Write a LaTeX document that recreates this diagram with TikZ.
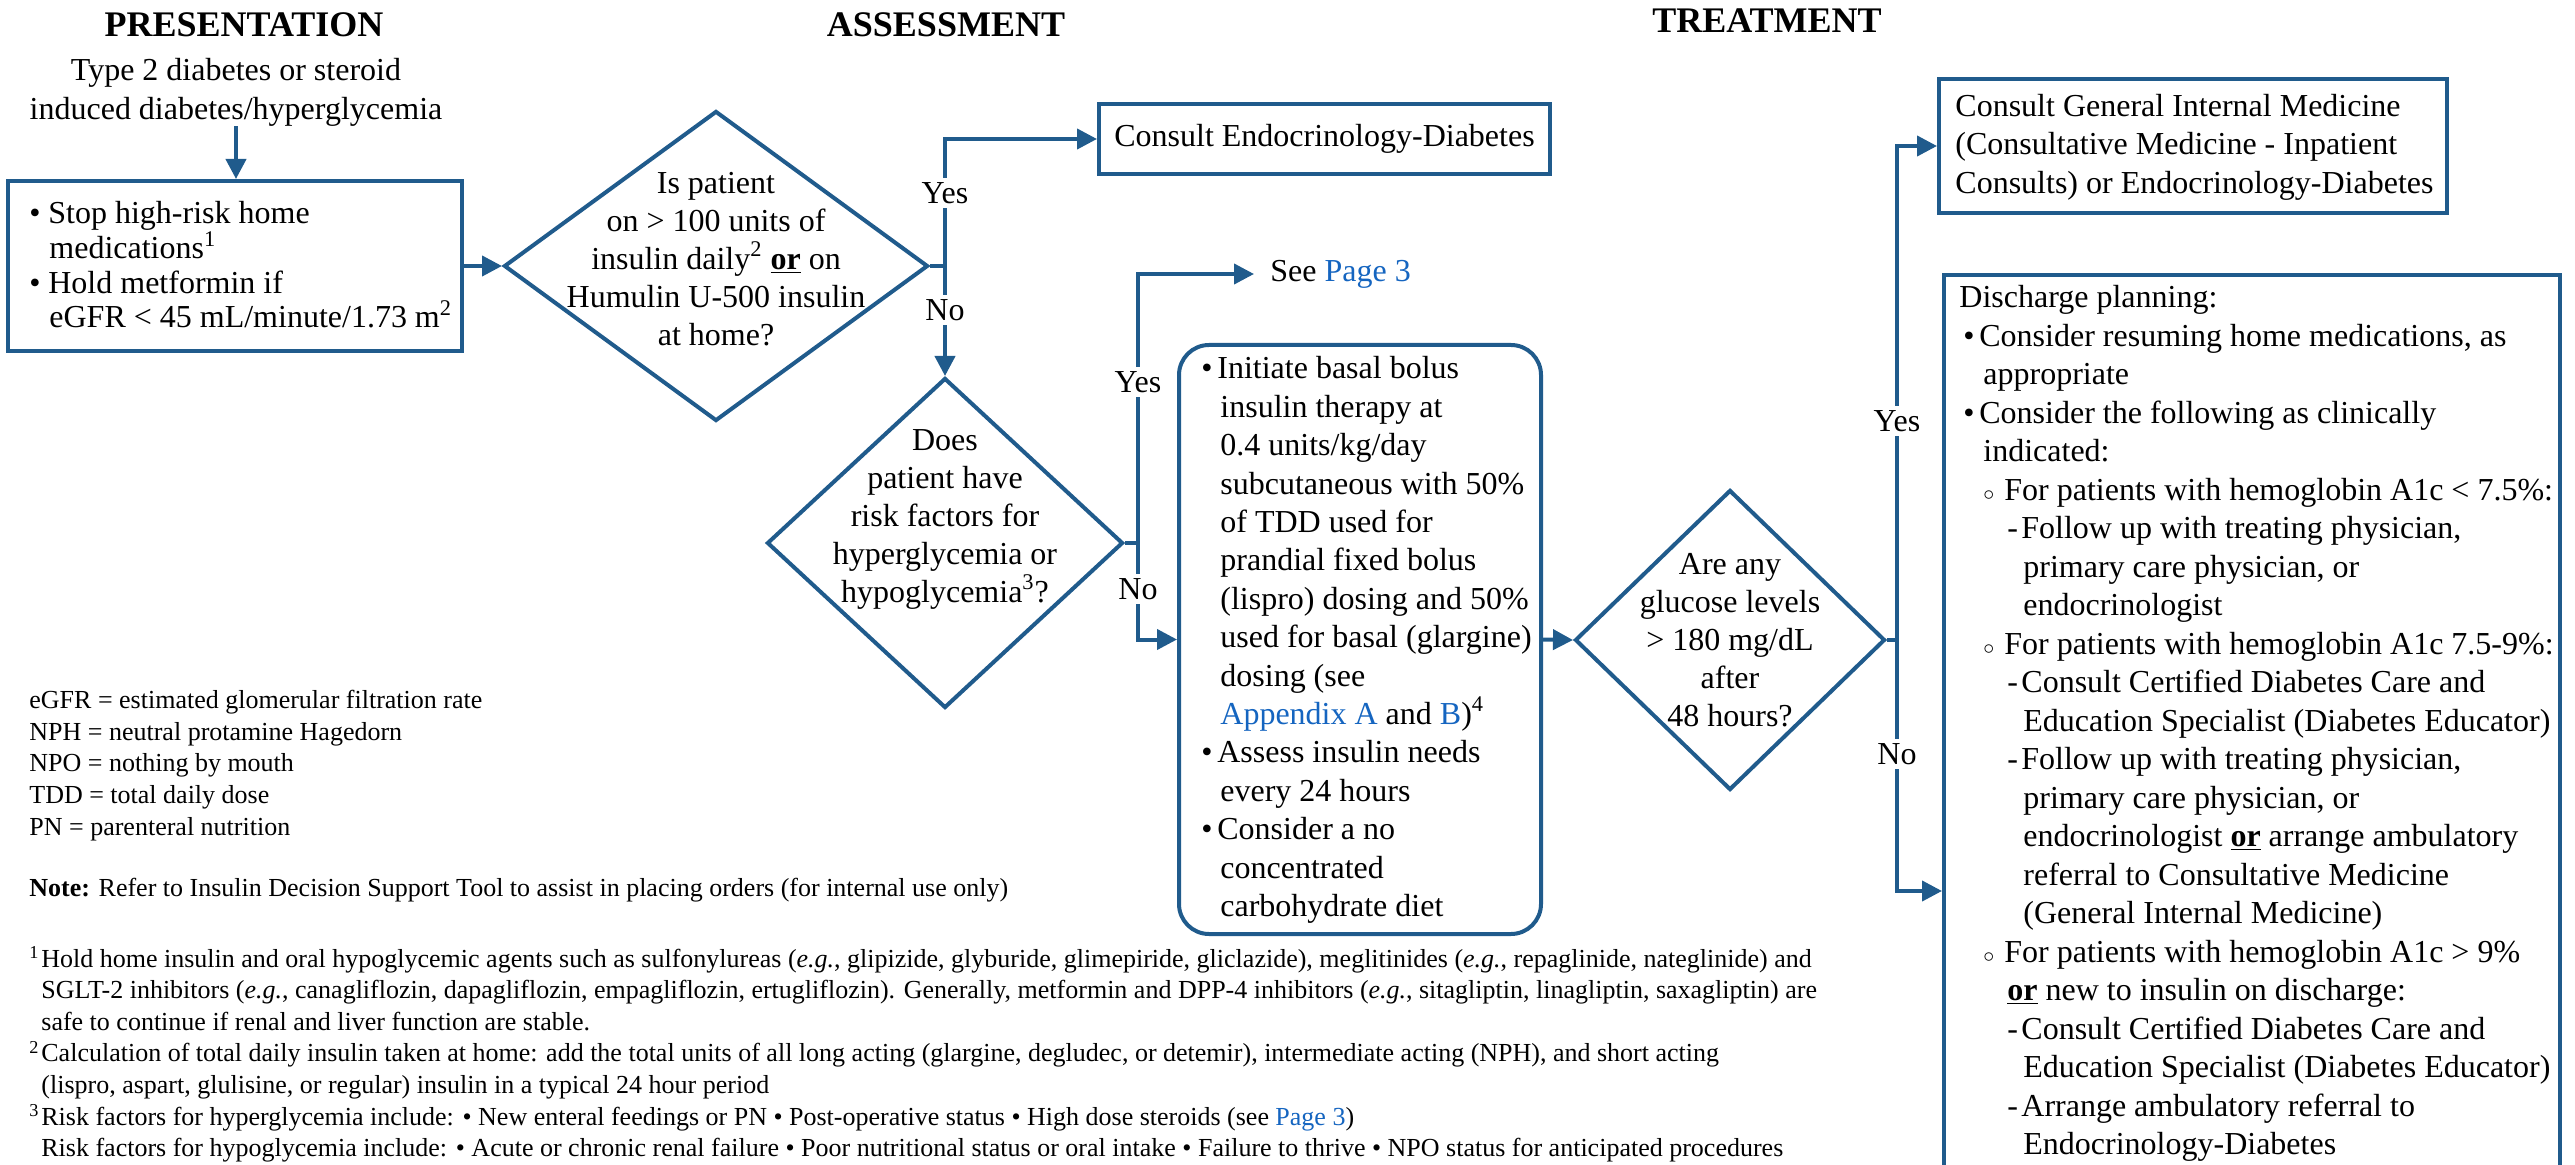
\documentclass[tikz,border=0pt]{standalone}
\usepackage{fontspec}
\setmainfont{Liberation Serif}
\usetikzlibrary{arrows.meta,shapes.geometric}
\definecolor{lineblue}{RGB}{32,91,140}
\definecolor{linkblue}{RGB}{21,101,192}
\newcommand\fmain{\fontsize{16}{19}\selectfont}
\newcommand\ffoot{\fontsize{13}{15.8}\selectfont}
\newcommand\lnk[1]{\textcolor{linkblue}{#1}}
\newcommand\uor{\underline{\textbf{or}}}
\newcommand\bulA{\makebox[9.5pt][l]{\textbullet}}
\newcommand\contA{\hspace*{10pt}}
\newcommand\bulR{\makebox[8pt][l]{\textbullet}}
\newcommand\contR{\hspace*{9.5pt}}
\newcommand\dlBul{\hspace*{2pt}\makebox[8pt][l]{\textbullet}}
\newcommand\dlBulC{\hspace*{12pt}}
\newcommand\dlCirc{\hspace*{12pt}\makebox[10.5pt][l]{$\scriptstyle\circ$}}
\newcommand\dlCircC{\hspace*{24pt}}
\newcommand\dlDash{\hspace*{24pt}\makebox[7pt][l]{-}}
\newcommand\dlDashC{\hspace*{32pt}}
\newcommand\fnum[1]{\makebox[6pt][l]{\textsuperscript{#1}}}
\newcommand\fcont{\hspace*{6pt}}
\tikzset{
  box/.style={draw=lineblue, line width=2pt, rectangle, inner sep=0pt},
  dia/.style={draw=lineblue, line width=2pt, diamond, aspect=1, inner sep=0pt},
  arr/.style={draw=lineblue, line width=2pt, -{Triangle[length=10pt,width=10pt]}},
  ln/.style={draw=lineblue, line width=2pt},
  yn/.style={fill=white, inner sep=2pt, font=\fmain},
  txt/.style={inner sep=0pt, font=\fmain},
  hdr/.style={inner sep=0pt, font=\fontsize{18}{22}\selectfont\bfseries},
}
\begin{document}
\begin{tikzpicture}[x=0.5pt,y=-0.5pt]
\useasboundingbox (0,0) rectangle (2575,1165);

% headers
\node[hdr] (hP) at (244,25) {PRESENTATION};
\node[hdr] (hA) at (946,25) {ASSESSMENT};
\node[hdr] (hT) at (1767,21) {TREATMENT};

% shapes
\node[txt, align=center, font=\fontsize{16}{19.5}\selectfont] (pres) at (236,92) {Type 2 diabetes or steroid\\induced diabetes/hyperglycemia};
\node[box, minimum width=227pt, minimum height=85pt] (b1) at (235,266) {};
\node[dia, minimum width=212pt, minimum height=155pt] (d1) at (716,266) {};
\node[box, minimum width=225.5pt, minimum height=35pt, font=\fmain] (endo) at (1324.5,139) {Consult Endocrinology-Diabetes};
\node[dia, minimum width=178pt, minimum height=165pt] (d2) at (945,543) {};
\node[txt, anchor=west, inner xsep=8pt] (see) at (1254,274) {See \lnk{Page 3}};
\node[box, rounded corners=15pt, minimum width=181pt, minimum height=294.5pt] (rb) at (1360,639.5) {};
\node[dia, minimum width=155pt, minimum height=150pt] (d3) at (1730,640) {};
\node[box, minimum width=254pt, minimum height=67pt] (gim) at (2193,146) {};
\node[box, anchor=north west, minimum width=308pt, minimum height=490pt] (dis) at (1942,273) {};

% texts inside shapes
\node[txt, anchor=west, align=left, font=\fontsize{16}{17.3}\selectfont] (t1) at (29,265)
 {\bulA Stop high-risk home\\\contA medications\textsuperscript{1}\\\bulA Hold metformin if\\\contA eGFR < 45 mL/minute/1.73 m\textsuperscript{2}};
\node[txt, align=center] (q1) at (716,259)
 {Is patient\\on > 100 units of\\insulin daily\textsuperscript{2} \uor{} on\\Humulin U-500 insulin\\at home?};
\node[txt, align=center] (q2) at (945,519)
 {Does\\patient have\\risk factors for\\hyperglycemia or\\hypoglycemia\textsuperscript{3}?};
\node[txt, align=center] (q3) at (1730,640)
 {Are any\\glucose levels\\> 180 mg/dL\\after\\48 hours?};
\node[txt, anchor=west, align=left, font=\fontsize{16}{19.2}\selectfont] (t2) at (1201,640)
 {\bulR Initiate basal bolus\\
  \contR insulin therapy at\\
  \contR 0.4 units/kg/day\\
  \contR subcutaneous with 50\%\\
  \contR of TDD used for\\
  \contR prandial fixed bolus\\
  \contR (lispro) dosing and 50\%\\
  \contR used for basal (glargine)\\
  \contR dosing (see\\
  \contR \lnk{Appendix A} and \lnk{B})\textsuperscript{4}\\
  \bulR Assess insulin needs\\
  \contR every 24 hours\\
  \bulR Consider a no\\
  \contR concentrated\\
  \contR carbohydrate diet};
\node[txt, anchor=west, align=left, font=\fontsize{16}{19.25}\selectfont] (t3) at (1955,147)
 {Consult General Internal Medicine\\(Consultative Medicine - Inpatient\\Consults) or Endocrinology-Diabetes};
\node[txt, anchor=north west, align=left, font=\fontsize{16}{19.25}\selectfont] (t4) at (1959,285)
 {Discharge planning:\\
  \dlBul Consider resuming home medications, as\\
  \dlBulC appropriate\\
  \dlBul Consider the following as clinically\\
  \dlBulC indicated:\\
  \dlCirc For patients with hemoglobin A1c < 7.5\%:\\
  \dlDash Follow up with treating physician,\\
  \dlDashC primary care physician, or\\
  \dlDashC endocrinologist\\
  \dlCirc For patients with hemoglobin A1c 7.5-9\%:\\
  \dlDash Consult Certified Diabetes Care and\\
  \dlDashC Education Specialist (Diabetes Educator)\\
  \dlDash Follow up with treating physician,\\
  \dlDashC primary care physician, or\\
  \dlDashC endocrinologist \uor{} arrange ambulatory\\
  \dlDashC referral to Consultative Medicine\\
  \dlDashC (General Internal Medicine)\\
  \dlCirc For patients with hemoglobin A1c > 9\%\\
  \dlCircC \uor{} new to insulin on discharge:\\
  \dlDash Consult Certified Diabetes Care and\\
  \dlDashC Education Specialist (Diabetes Educator)\\
  \dlDash Arrange ambulatory referral to\\
  \dlDashC Endocrinology-Diabetes};

% legend and footnotes
\node[txt, anchor=north west, align=left, font=\ffoot] (abbr) at (29,690)
 {eGFR = estimated glomerular filtration rate\\
  NPH = neutral protamine Hagedorn\\
  NPO = nothing by mouth\\
  TDD = total daily dose\\
  PN = parenteral nutrition};
\node[txt, anchor=west, font=\ffoot] (note) at (29,890)
 {\textbf{Note:} Refer to Insulin Decision Support Tool to assist in placing orders (for internal use only)};
\node[txt, anchor=north west, align=left, font=\ffoot] (fn) at (29,946)
 {\fnum{1}Hold home insulin and oral hypoglycemic agents such as sulfonylureas (\textit{e.g.}, glipizide, glyburide, glimepiride, gliclazide), meglitinides (\textit{e.g.}, repaglinide, nateglinide) and\\
  \fcont SGLT-2 inhibitors (\textit{e.g.}, canagliflozin, dapagliflozin, empagliflozin, ertugliflozin). Generally, metformin and DPP-4 inhibitors (\textit{e.g.}, sitagliptin, linagliptin, saxagliptin) are\\
  \fcont safe to continue if renal and liver function are stable.\\
  \fnum{2}Calculation of total daily insulin taken at home: add the total units of all long acting (glargine, degludec, or detemir), intermediate acting (NPH), and short acting\\
  \fcont (lispro, aspart, glulisine, or regular) insulin in a typical 24 hour period\\
  \fnum{3}Risk factors for hyperglycemia include: \textbullet\ New enteral feedings or PN \textbullet\ Post-operative status \textbullet\ High dose steroids (see \lnk{Page 3})\\
  \fcont Risk factors for hypoglycemia include: \textbullet\ Acute or chronic renal failure \textbullet\ Poor nutritional status or oral intake \textbullet\ Failure to thrive \textbullet\ NPO status for anticipated procedures\\
  \fnum{4}};

% connectors
\draw[arr] (pres.south) -- (pres.south |- b1.north);
\draw[arr] (b1.east) -- (d1.west);
\coordinate (j1) at (945,266);
\draw[ln] (d1.east) -- (j1);
\draw[arr] (j1) |- (endo.west);
\draw[arr] (j1) -- (d2.north);
\coordinate (j2) at (1138,543);
\draw[ln] (d2.east) -- (j2);
\draw[arr] (j2) |- (see.west);
\draw[arr] (j2) |- (rb.west);
\draw[arr] (rb.east) -- (d3.west);
\coordinate (j3) at (1897,640);
\draw[ln] (d3.east) -- (j3);
\draw[arr] (j3) |- (gim.west);
\coordinate (dn) at (dis.west |- 0,891);
\draw[arr] (j3) |- (dn);

% labels
\node[yn] (y1) at (945,193) {Yes};
\node[yn] (n1) at (945,310) {No};
\node[yn] (y2) at (1138,382) {Yes};
\node[yn] (n2) at (1138,589) {No};
\node[yn] (y3) at (1897,421) {Yes};
\node[yn] (n3) at (1897,754) {No};
\end{tikzpicture}
\end{document}
